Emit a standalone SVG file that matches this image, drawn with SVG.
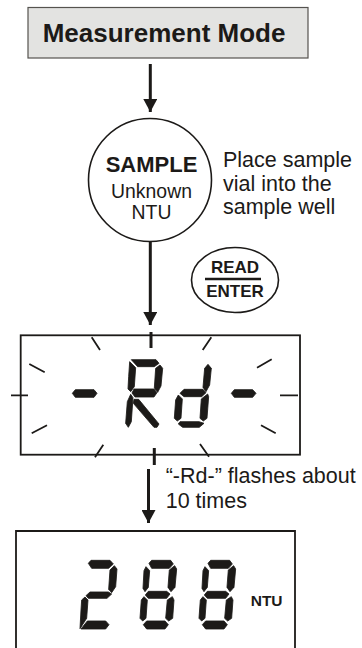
<svg xmlns="http://www.w3.org/2000/svg" xmlns:xlink="http://www.w3.org/1999/xlink" width="362" height="648" viewBox="0 0 362 648">
<style>
text{font-family:"Liberation Sans",Arial,sans-serif;fill:#1c1a18}
.b{font-weight:bold}
.l{stroke:#1c1a18;fill:none;stroke-width:3}
.s{fill:#1c1a18;stroke:#1c1a18;stroke-width:2.500;stroke-linejoin:round}
.r{stroke:#1c1a18;stroke-width:1.800;fill:none}
.t{font-size:21.500px}
.n{font-size:19.400px;text-anchor:middle}
.k{font-size:17px;text-anchor:middle;font-weight:bold}
</style>
<defs>
<marker id="a" markerUnits="userSpaceOnUse" markerWidth="14" markerHeight="14" refX="13" refY="7" orient="auto"><path d="M0 0L13 7L0 14Z" fill="#1c1a18"/></marker>
<g id="d8" class="s">
<path d="M237 40L245 31H302L310 42L298 55H245Z"/>
<path d="M228 50L239 62L235 112L225 125L219 115L222 62Z"/>
<path d="M314 47L320 57L315 112L303 125L294 112L298 60Z"/>
<path d="M235 124H290L300 132L290 145H235L226 135Z"/>
<path d="M222 140L232 150L228 205L218 213L210 205L214 150Z"/>
<path d="M307 140L312 150L308 205L296 213L287 205L292 150Z"/>
<path d="M230 213H285L295 224L285 237H230L220 224Z"/>
</g>
</defs>
<rect width="362" height="648" fill="#fff"/>
<g id="connectors">
<path class="l" d="M150.300 64V112" marker-end="url(#a)"/>
<path class="l" d="M150.300 242V325" marker-end="url(#a)"/>
<path class="l" d="M148.500 469V523" marker-end="url(#a)"/>
</g>
<g id="mode"><rect x="28" y="7.500" width="280" height="50.500" fill="#e3e3e1" stroke="#55534f" stroke-width="1.200"/>
<text class="b" x="42.700" y="42.300" font-size="26">Measurement Mode</text></g>
<g id="sample"><circle cx="150" cy="180" r="61.500" fill="#fff" stroke="#1c1a18" stroke-width="1.600"/>
<text class="b" x="151.500" y="172" font-size="22" text-anchor="middle">SAMPLE</text>
<text class="n" x="151.500" y="198">Unknown</text>
<text class="n" x="151.500" y="219">NTU</text></g>
<g id="note1"><text class="t" x="223" y="167">Place sample</text><text class="t" x="223" y="190.500">vial into the</text><text class="t" x="223" y="214">sample well</text></g>
<g id="key"><ellipse cx="235" cy="280" rx="43.500" ry="32.500" fill="#fff" stroke="#1c1a18" stroke-width="1.600"/>
<text class="k" x="235" y="273">READ</text>
<path d="M205 279H261" stroke="#1c1a18" stroke-width="2.500"/>
<text class="k" x="235" y="297">ENTER</text></g>
<g id="lcd1"><rect x="20.700" y="335.300" width="279.300" height="119.400" fill="#fff" stroke="#1c1a18" stroke-width="1.800"/>
<g class="r">
<path d="M151 332V348M154.300 448V465" stroke-width="3"/>
<path d="M91.700 337.300L100 350M211.300 337.300L202.700 350M29.300 364L44.700 372.300M271.700 359.300L257 367.700M11 395.300H28M280 395.300H298M31.700 433.300L47 425.300M275.700 433.300L261 425.300M103.300 444.700L95 457.300M200 444L209 456.700"/></g>
<g class="s" transform="translate(60 350) scale(.3333)">
<path d="M37 130L46 119H102L111 130L102 142H46Z"/><path d="M514 130L523 119H578L588 130L578 142H523Z"/>
<path d="M214 29H288L297 40L283 50H233Z"/>
<path d="M300 45L308 55L303 108L293 127L283 114L287 55Z"/>
<path d="M209 35L227 53L223 110L212 125L204 117L206 80Z"/>
<path d="M222 117H282L291 128L282 141H225L216 129Z"/>
<path d="M212 133L219 143L214 215L205 232L197 220L202 155Z"/>
<path d="M222 148H236L297 222L291 232H282L220 160Z"/>
<path d="M444 43L454 55L449 105L438 125L429 112L434 55Z"/>
<path d="M372 118H429L438 128L425 140H372L360 130Z"/>
<path d="M355 135L367 147L363 205L352 213L343 205L347 150Z"/>
<path d="M443 132L446 140L441 205L430 213L420 205L424 147Z"/>
<path d="M360 215H417L432 220L418 232H368L355 222Z"/>
</g></g>
<g id="note2"><text class="t" x="165.700" y="483.300">“-Rd-” flashes about</text><text class="t" x="165.700" y="508">10 times</text></g>
<g id="lcd2"><path d="M16 648V531H295V648" fill="#fff" stroke="#1c1a18" stroke-width="1.800"/>
<g transform="translate(70 550) scale(.3333)">
<g class="s">
<path d="M55 40L63 31H120L130 42L116 55H65Z"/>
<path d="M133 47L141 57L137 110L125 128L116 118L120 60Z"/>
<path d="M60 126H115L125 132L111 145H55L48 137Z"/>
<path d="M45 141L54 150L50 205L30 236L33 180L35 150Z"/>
<path d="M52 213H107L117 224L107 237H33Z"/>
</g>
<use href="#d8"/><use href="#d8" x="177"/></g>
<text class="b" x="250.700" y="605.700" font-size="15.500">NTU</text></g>
</svg>
